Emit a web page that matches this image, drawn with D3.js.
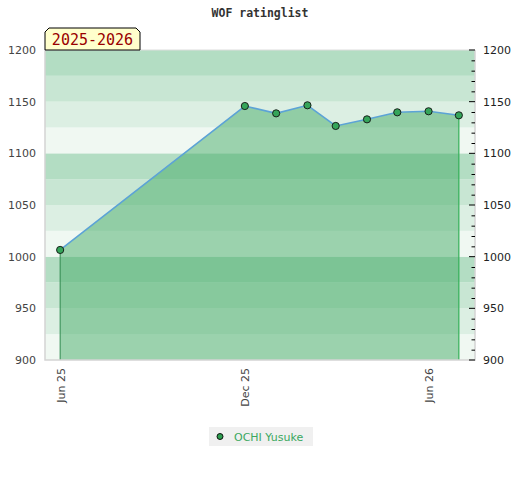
<!DOCTYPE html>
<html><head><meta charset="utf-8">
<script src="https://cdn.jsdelivr.net/npm/d3@7"></script>
<style>body{margin:0;background:#fff}svg{display:block}</style>
</head><body>
<svg id="c" width="520" height="480"></svg>
<script>
const title = "WOF ratinglist";
const seasonLabel = "2025-2026";
const seriesName = "OCHI Yusuke";
const dates = ["2025-06-01","2025-12-01","2026-01-01","2026-02-01","2026-03-01","2026-04-01","2026-05-01","2026-06-01","2026-07-01"];
const ratings = [1006.5,1145.8,1138.7,1146.5,1126.5,1132.9,1139.7,1140.7,1136.8];
const xTicks = ["2025-06-01","2025-12-01","2026-06-01"];
const yTicks = [900,950,1000,1050,1100,1150,1200];
const bandShades = ["#b3ddc3","#c8e6d3","#dcefe3","#f0f8f2"];

const parse = d3.timeParse("%Y-%m-%d");
const data = dates.map((d,i)=>({date:parse(d), v:ratings[i]}));
const svg = d3.select("#c");
const L=45,R=475,T=50,B=360;
const x = d3.scaleTime().domain([parse("2025-05-17"), parse("2026-07-17")]).range([L,R]);
const y = d3.scaleLinear().domain([900,1200]).range([B,T]);

// bands
const bands = d3.range(900,1200,25);
svg.append("g").selectAll("rect").data(bands).join("rect")
  .attr("x",L).attr("width",R-L)
  .attr("y",d=>y(d+25)).attr("height",d=>y(d)-y(d+25))
  .attr("fill",d=>bandShades[3-((d-900)/25)%4]);

// area
const area = d3.area().x(d=>x(d.date)).y0(y(900)).y1(d=>y(d.v));
svg.append("path").datum(data).attr("d",area).attr("fill","rgb(69,172,103)").attr("fill-opacity",0.5);

// drop lines
const first=data[0], last=data[data.length-1];
svg.append("line").attr("x1",x(first.date)).attr("x2",x(first.date)).attr("y1",y(first.v)).attr("y2",y(900)).attr("stroke","#2f8a4e").attr("stroke-width",1);
svg.append("line").attr("x1",x(last.date)).attr("x2",x(last.date)).attr("y1",y(last.v)).attr("y2",y(900)).attr("stroke","#33b057").attr("stroke-width",1.2);

// frame
svg.append("path").attr("d",`M${L},${T}V${B}H${R}V${T}`).attr("fill","none").attr("stroke","#d4d4d4").attr("stroke-width",1.5);
svg.append("line").attr("x1",L).attr("x2",R).attr("y1",T).attr("y2",T).attr("stroke","#dddddd").attr("stroke-width",1);

// line
const line = d3.line().x(d=>x(d.date)).y(d=>y(d.v));
svg.append("path").datum(data).attr("d",line).attr("fill","none").attr("stroke","#5ca3d6").attr("stroke-width",1.6);

// markers
svg.append("g").selectAll("circle").data(data).join("circle")
  .attr("cx",d=>x(d.date)).attr("cy",d=>y(d.v)).attr("r",3.6)
  .attr("fill","#35a55a").attr("stroke","#111").attr("stroke-width",0.9);

// left axis labels
const fontAxis = "DejaVu Sans, sans-serif";
const yl = d3.axisLeft(y).tickValues(yTicks).tickSize(0).tickPadding(9).tickFormat(d3.format("d"));
const gl = svg.append("g").attr("transform",`translate(${L},0)`).call(yl);
gl.select(".domain").remove();
gl.selectAll("text").attr("font-family",fontAxis).attr("font-size",11).attr("fill","#444");

// right axis with minor ticks inside
const minor = d3.range(900,1201,10).filter(v=>v%50!==0);
const gm = svg.append("g").attr("transform",`translate(${R},0)`).call(d3.axisLeft(y).tickValues(minor).tickSize(3.5).tickFormat(""));
gm.select(".domain").remove();
gm.selectAll("line").attr("stroke","#000");
const gr = svg.append("g").attr("transform",`translate(${R},0)`).call(d3.axisRight(y).tickValues(yTicks).tickSize(0).tickPadding(8).tickFormat(d3.format("d")));
gr.select(".domain").remove();
gr.selectAll("text").attr("font-family",fontAxis).attr("font-size",11).attr("fill","#222");
svg.append("g").attr("transform",`translate(${R},0)`).selectAll("line").data(yTicks).join("line")
  .attr("x1",-6).attr("x2",0).attr("y1",d=>y(d)).attr("y2",d=>y(d)).attr("stroke","#000");

// x axis labels rotated
const gx = svg.append("g").attr("transform",`translate(0,${B})`).call(d3.axisBottom(x).tickValues(xTicks.map(parse)).tickSize(0).tickFormat(d3.timeFormat("%b %y")));
gx.select(".domain").remove();
gx.selectAll("text").attr("font-family",fontAxis).attr("font-size",11).attr("fill","#444")
  .attr("transform","rotate(-90)").attr("text-anchor","end").attr("dy","0.35em").attr("dx","-8").attr("x",0).attr("y",0);

// title
svg.append("text").attr("x",260).attr("y",17).attr("text-anchor","middle")
  .attr("font-family","DejaVu Sans Mono, monospace").attr("font-weight","bold").attr("font-size",11.5).attr("fill","#333").text(title);

// season label
const bx0=45,bx1=140,by0=28,by1=50,ch=4;
svg.append("path").attr("d",`M${bx0},${by1}V${by0+ch}L${bx0+ch},${by0}H${bx1-ch}L${bx1},${by0+ch}V${by1}Z`)
  .attr("fill","#ffffcc").attr("stroke","#000").attr("stroke-width",1);
svg.append("text").attr("x",(bx0+bx1)/2).attr("y",45).attr("text-anchor","middle")
  .attr("font-family","DejaVu Sans Mono, monospace").attr("font-size",15).attr("fill","#990000").text(seasonLabel);

// legend
const lg = svg.append("g");
lg.append("rect").attr("x",209).attr("y",427).attr("width",104).attr("height",19).attr("fill","#f0f0f0");
lg.append("circle").attr("cx",220).attr("cy",436.5).attr("r",3).attr("fill","#2e9e50").attr("stroke","#000").attr("stroke-width",0.9);
lg.append("text").attr("x",234).attr("y",440.5).attr("font-family",fontAxis).attr("font-size",11).attr("fill","#3aa860").text(seriesName);
</script>
</body></html>
